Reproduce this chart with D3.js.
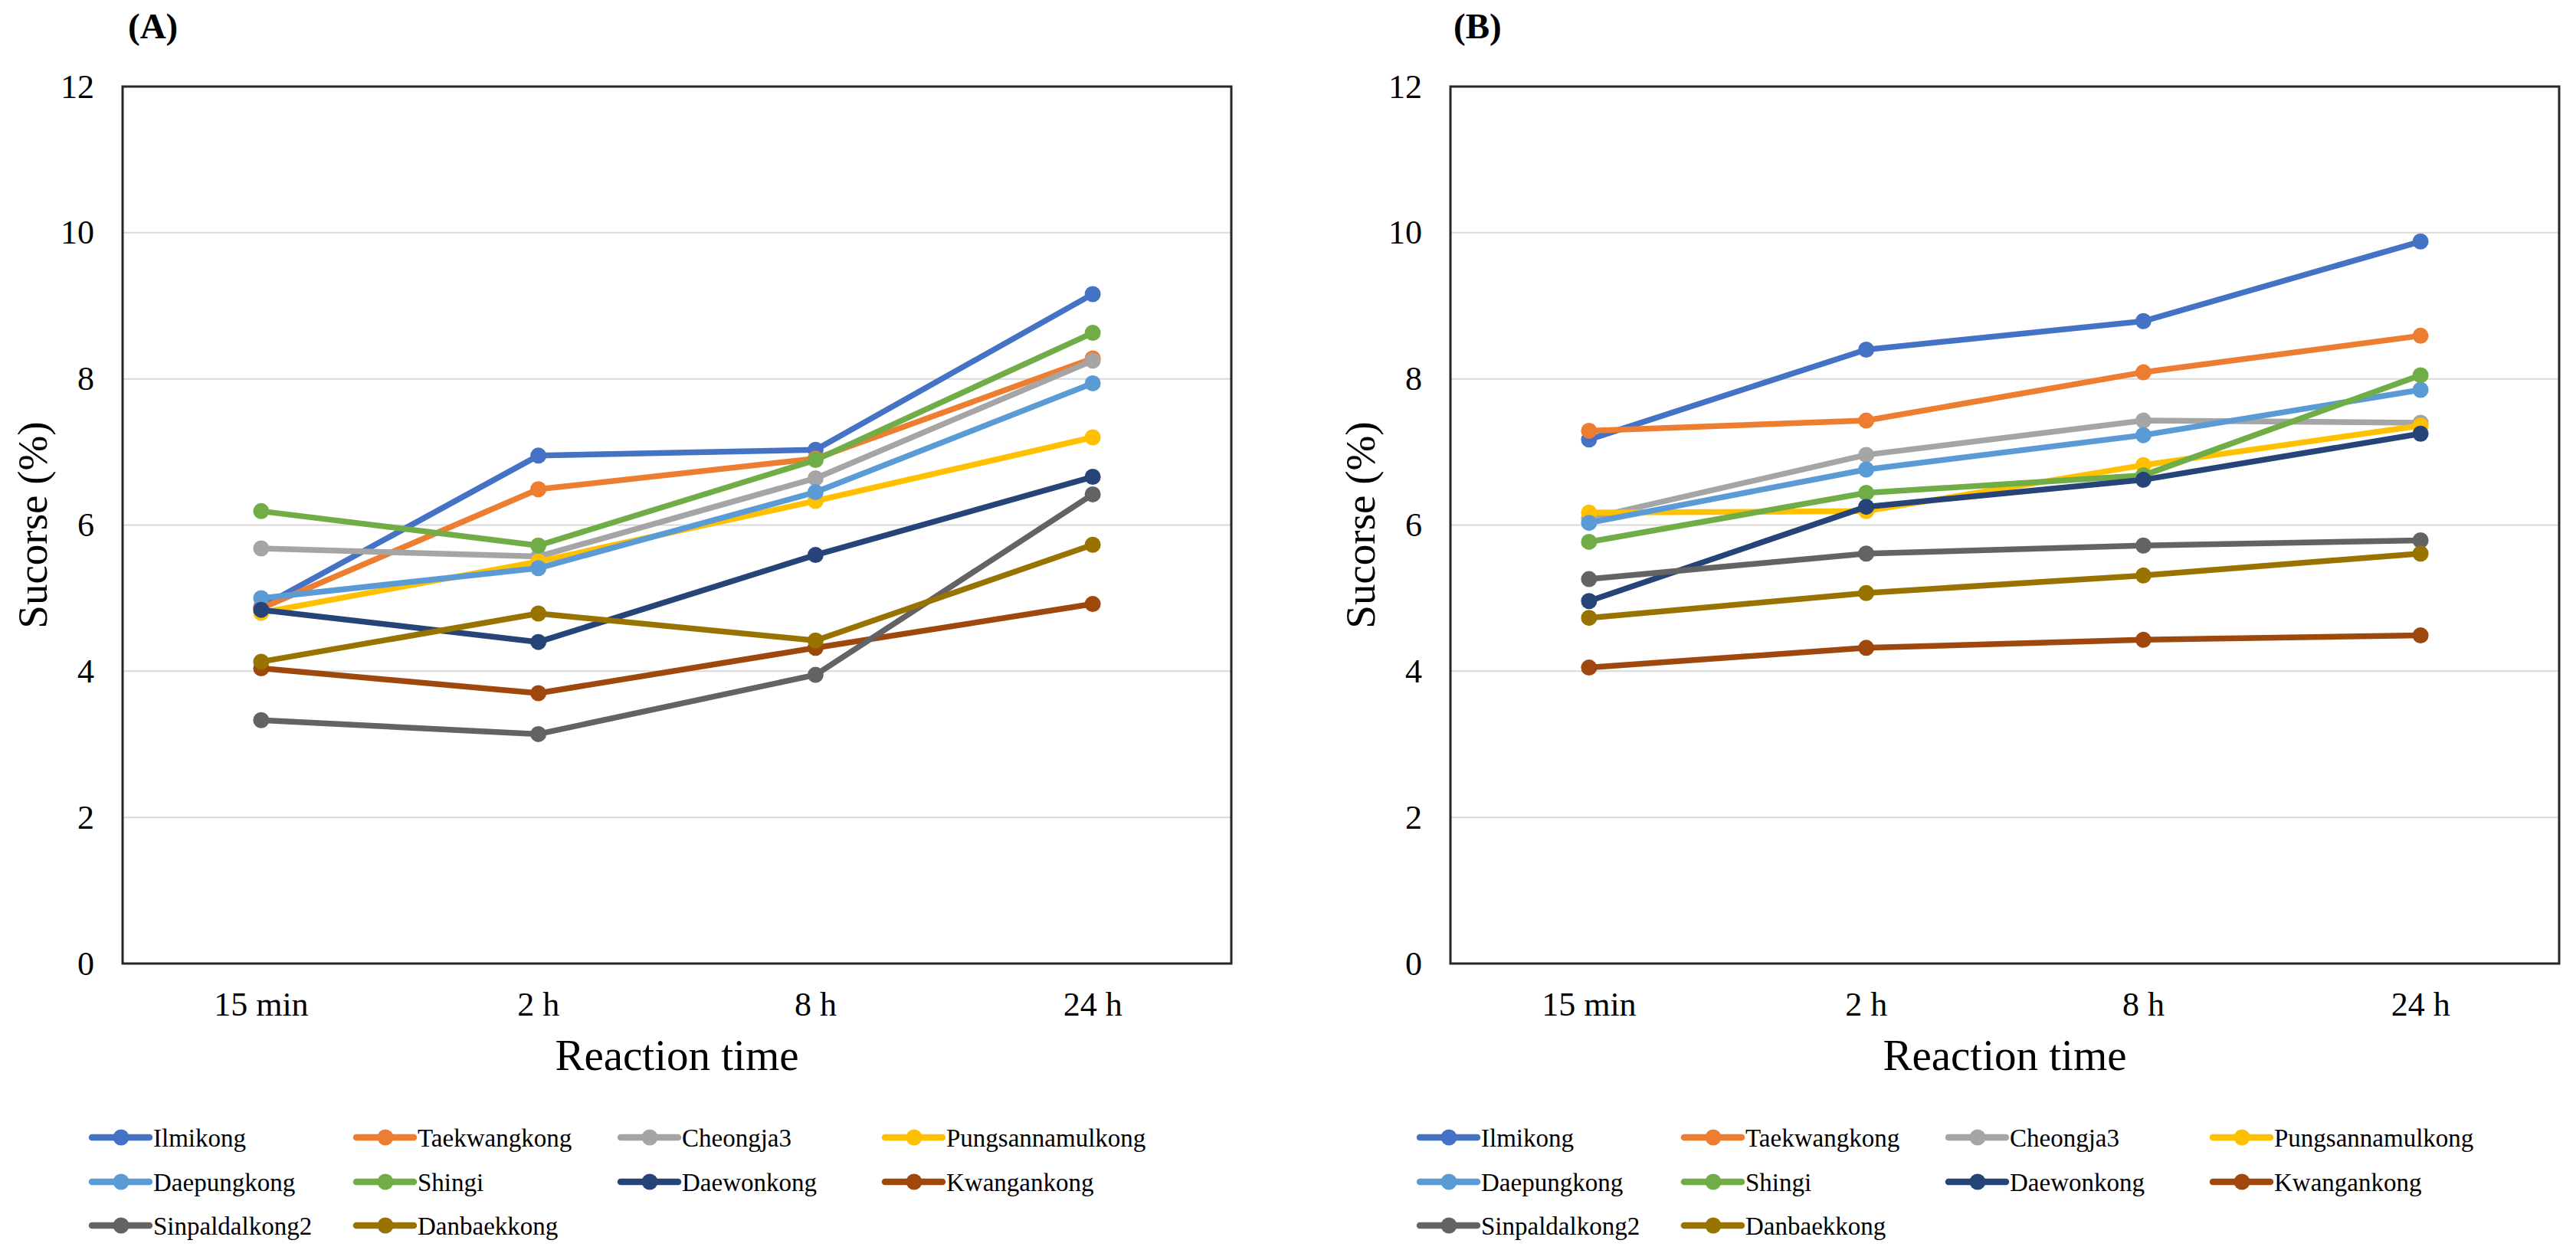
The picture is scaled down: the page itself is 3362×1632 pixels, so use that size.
<!DOCTYPE html>
<html>
<head>
<meta charset="utf-8">
<script src="https://cdn.jsdelivr.net/npm/d3@7"></script>
<style>
  html, body { margin: 0; padding: 0; background: #fff; }
  svg { display: block; }
  svg text { font-family: 'Liberation Serif', 'Times New Roman', serif; }
</style>
</head>
<body>
<svg id="chart" width="3362" height="1632"></svg>
<script>
// ---------- data ----------
const categories = ["15 min", "2 h", "8 h", "24 h"];
const seriesNames = ["Ilmikong", "Taekwangkong", "Cheongja3", "Pungsannamulkong",
  "Daepungkong", "Shingi", "Daewonkong", "Kwangankong", "Sinpaldalkong2", "Danbaekkong"];
const seriesColors = ["#4472C4", "#ED7D31", "#A5A5A5", "#FFC000",
  "#5B9BD5", "#70AD47", "#264478", "#9E480E", "#636363", "#997300"];
const yTicks = [0, 2, 4, 6, 8, 10, 12];
const panelLabels = ["(A)", "(B)"];

// Panel A values (series order as seriesNames)
const valuesA = [
  [4.88, 6.95, 7.03, 9.16],
  [4.86, 6.49, 6.91, 8.28],
  [5.68, 5.57, 6.64, 8.25],
  [4.80, 5.50, 6.33, 7.20],
  [5.00, 5.41, 6.45, 7.94],
  [6.19, 5.72, 6.89, 8.63],
  [4.84, 4.40, 5.59, 6.66],
  [4.04, 3.70, 4.32, 4.92],
  [3.33, 3.14, 3.95, 6.42],
  [4.13, 4.79, 4.42, 5.73]
];
// Panel B values
const valuesB = [
  [7.17, 8.40, 8.79, 9.88],
  [7.29, 7.43, 8.09, 8.59],
  [6.09, 6.96, 7.43, 7.40],
  [6.17, 6.19, 6.82, 7.36],
  [6.03, 6.76, 7.23, 7.85],
  [5.77, 6.44, 6.68, 8.05],
  [4.96, 6.25, 6.62, 7.25],
  [4.05, 4.32, 4.43, 4.49],
  [5.26, 5.61, 5.72, 5.79],
  [4.73, 5.07, 5.31, 5.61]
];
const panelValues = [valuesA, valuesB];

// ---------- layout ----------
const FONT = "'Liberation Serif', 'Times New Roman', serif";
const plotTop = 113, plotBottom = 1258, plotWidth = 1447;
const plotLefts = [160, 1893];

const svg = d3.select("#chart");
svg.append("rect").attr("width", 3362).attr("height", 1632).attr("fill", "#fff");

panelValues.forEach((vals, p) => {
  const left = plotLefts[p];
  const g = svg.append("g");

  const x = d3.scaleBand().domain(categories).range([left, left + plotWidth]);
  const y = d3.scaleLinear().domain([0, 12]).range([plotBottom, plotTop]);
  const cx = c => x(c) + x.bandwidth() / 2;

  // gridlines
  g.append("g").selectAll("line")
    .data(yTicks.filter(t => t > 0 && t < 12))
    .join("line")
    .attr("x1", left).attr("x2", left + plotWidth)
    .attr("y1", d => y(d)).attr("y2", d => y(d))
    .attr("stroke", "#D9D9D9").attr("stroke-width", 2);

  // y axis
  const ya = g.append("g").attr("transform", `translate(${left},0)`)
    .call(d3.axisLeft(y).tickValues(yTicks).tickSize(0).tickPadding(37).tickFormat(d3.format("d")));
  ya.attr("font-family", null).attr("font-size", null);
  ya.select(".domain").remove();
  ya.selectAll("text").style("font-family", FONT).style("font-size", "44px").attr("fill", "#000");

  // x axis
  const xa = g.append("g").attr("transform", `translate(0,${plotBottom})`)
    .call(d3.axisBottom(x).tickSize(0).tickPadding(37));
  xa.attr("font-family", null).attr("font-size", null);
  xa.select(".domain").remove();
  xa.selectAll("text").style("font-family", FONT).style("font-size", "44px").attr("fill", "#000");

  // series lines and markers
  const line = d3.line().x((d, i) => cx(categories[i])).y(d => y(d));
  vals.forEach((s, k) => {
    g.append("path").datum(s)
      .attr("d", line)
      .attr("fill", "none")
      .attr("stroke", seriesColors[k])
      .attr("stroke-width", 7.5)
      .attr("stroke-linejoin", "round")
      .attr("stroke-linecap", "round");
    g.append("g").selectAll("circle").data(s).join("circle")
      .attr("cx", (d, i) => cx(categories[i]))
      .attr("cy", d => y(d))
      .attr("r", 10.5)
      .attr("fill", seriesColors[k]);
  });

  // plot border
  g.append("rect")
    .attr("x", left).attr("y", plotTop)
    .attr("width", plotWidth).attr("height", plotBottom - plotTop)
    .attr("fill", "none").attr("stroke", "#262626").attr("stroke-width", 3);

  // panel label
  g.append("text").text(panelLabels[p])
    .attr("x", left + (p === 0 ? 7 : 4)).attr("y", 50)
    .style("font-family", FONT).style("font-size", "47px").attr("font-weight", "bold");

  // axis titles
  g.append("text").text("Reaction time")
    .attr("x", left + plotWidth / 2).attr("y", 1397)
    .attr("text-anchor", "middle")
    .style("font-family", FONT).style("font-size", "57px");
  g.append("text").text("Sucorse (%)")
    .attr("transform", `translate(${left - 117},${(plotTop + plotBottom) / 2}) rotate(-90)`)
    .attr("dy", "0.33em")
    .attr("text-anchor", "middle")
    .style("font-family", FONT).style("font-size", "55px");

  // legend
  const legStart = left - 40;
  const rows = [1485, 1543, 1600];
  seriesNames.forEach((name, k) => {
    const col = k % 4, row = Math.floor(k / 4);
    const lx = legStart + col * 345, ly = rows[row];
    const lg = g.append("g");
    lg.append("line").attr("x1", lx).attr("x2", lx + 75).attr("y1", ly).attr("y2", ly)
      .attr("stroke", seriesColors[k]).attr("stroke-width", 8.5).attr("stroke-linecap", "round");
    lg.append("circle").attr("cx", lx + 38).attr("cy", ly).attr("r", 10.5).attr("fill", seriesColors[k]);
    lg.append("text").text(name).attr("x", lx + 80).attr("y", ly).attr("dy", "0.35em")
      .style("font-family", FONT).style("font-size", "33px").attr("fill", "#000");
  });
});
</script>
</body>
</html>
